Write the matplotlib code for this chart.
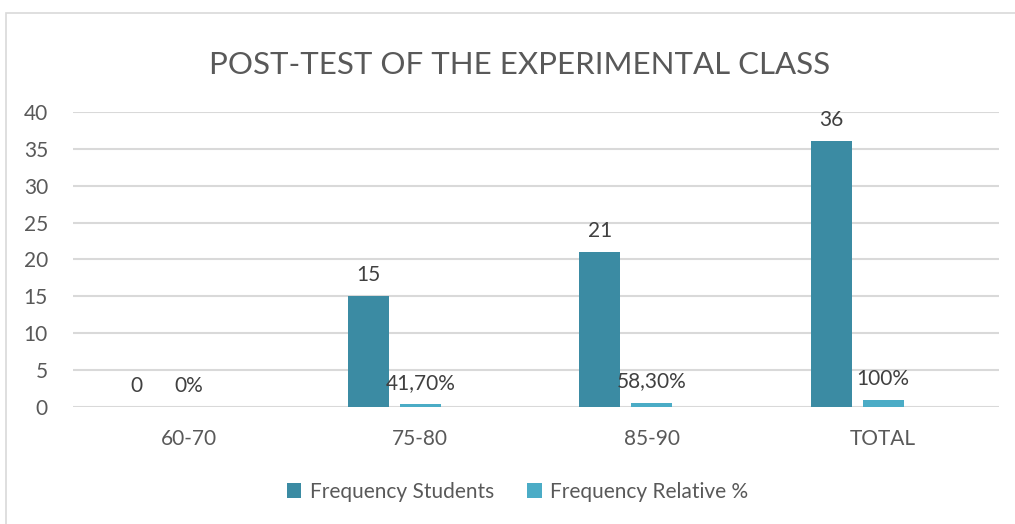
from matplotlib import pyplot as plt
from matplotlib.patches import Rectangle
import numpy as np

plt.rcParams['font.family'] = ['Lato', 'DejaVu Sans']

categories = ['60-70', '75-80', '85-90', 'TOTAL']
students = [0, 15, 21, 36]
relative = [0.0, 0.417, 0.583, 1.0]
relative_labels = ['0%', '41,70%', '58,30%', '100%']
yticks = [0, 5, 10, 15, 20, 25, 30, 35, 40]

c_students = '#3b8ba3'
c_relative = '#4bacc6'
grey_text = '#595959'
label_text = '#404040'

fig = plt.figure(figsize=(10.15, 5.24), dpi=100)
ax = fig.add_axes([0.0719, 0.2233, 0.9123, 0.563])

# chart border
fig.patches.append(Rectangle((6 / 1015, -0.1), 1.2, 1.1 - 13 / 524, transform=fig.transFigure,
                             fill=False, edgecolor='#d9d9d9', lw=1.2))

x = np.arange(len(categories))
width = 0.177
step = 0.225

b1 = ax.bar(x - step, students, width, color=c_students, label='Frequency Students', zorder=3)
b2 = ax.bar(x, relative, width, color=c_relative, label='Frequency Relative %', zorder=3)

for xi, v in zip(x, students):
    ax.annotate(str(v), (xi - step, v), xytext=(0, 8), textcoords='offset points',
                ha='center', va='bottom', fontsize=15, color=label_text)
for xi, v, lab in zip(x, relative, relative_labels):
    ax.annotate(lab, (xi, v), xytext=(0, 8), textcoords='offset points',
                ha='center', va='bottom', fontsize=15, color=label_text)

ax.set_xlim(-0.5, 3.5)
ax.set_ylim(0, 40)
ax.set_yticks(yticks)
ax.set_xticks(x)
ax.set_xticklabels(categories)
ax.tick_params(axis='both', length=0, labelsize=15, labelcolor=grey_text)
ax.tick_params(axis='y', pad=18)
ax.tick_params(axis='x', pad=16)
ax.grid(axis='y', color='#d9d9d9', lw=1.5, zorder=0)
for s in ax.spines.values():
    s.set_visible(False)

fig.text(0.5115, 0.876, 'POST-TEST OF THE EXPERIMENTAL CLASS', ha='center', va='center',
         fontsize=22.5, color=grey_text)

fig.legend(handles=[b1, b2], loc='center', bbox_to_anchor=(0.51, 0.061), ncol=2, frameon=False,
           fontsize=15, labelcolor=grey_text, handlelength=0.7, handleheight=0.7,
           handletextpad=0.4, columnspacing=1.6)

fig.savefig('out.png', dpi=100)
